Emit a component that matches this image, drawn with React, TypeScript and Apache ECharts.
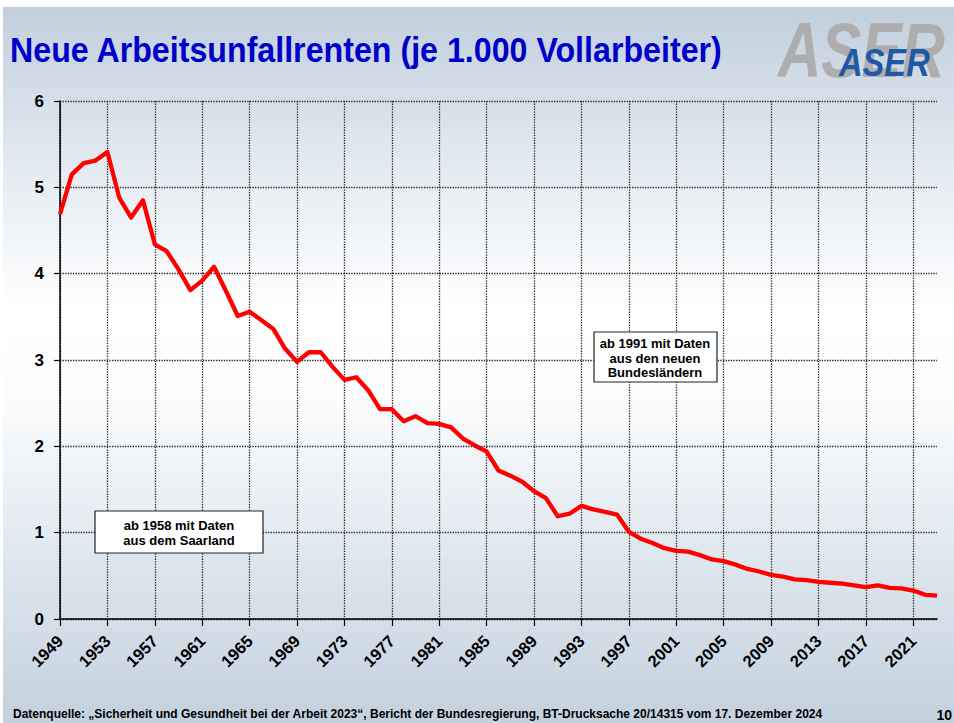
import React, { useEffect, useRef } from "react";
import * as echarts from "echarts";

const years: string[] = [];
for (let y = 1949; y <= 2023; y++) years.push(String(y));

const rentenValues: number[] = [
  4.69, 5.15, 5.28, 5.31, 5.41, 4.88, 4.65, 4.85, 4.34, 4.26,
  4.05, 3.81, 3.92, 4.08, 3.8, 3.51, 3.56, 3.46, 3.36, 3.13,
  2.98, 3.09, 3.09, 2.92, 2.77, 2.8, 2.65, 2.43, 2.43, 2.29,
  2.35, 2.27, 2.26, 2.22, 2.09, 2.01, 1.94, 1.72, 1.66, 1.59,
  1.48, 1.4, 1.19, 1.22, 1.31, 1.27, 1.24, 1.21, 1.01, 0.93,
  0.88, 0.82, 0.79, 0.78, 0.74, 0.69, 0.67, 0.63, 0.58, 0.55,
  0.51, 0.49, 0.46, 0.45, 0.43, 0.42, 0.41, 0.39, 0.37, 0.39,
  0.36, 0.355, 0.33, 0.28, 0.27,
];

const titleText = "Neue Arbeitsunfallrenten (je 1.000 Vollarbeiter)";
const footerText =
  "Datenquelle: \u201eSicherheit und Gesundheit bei der Arbeit 2023\u201c, Bericht der Bundesregierung, BT-Drucksache 20/14315 vom 17. Dezember 2024";
const pageNumber = "10";
const noteSaarland = "ab 1958 mit Daten\naus dem Saarland";
const noteNeueLaender = "ab 1991 mit Daten\naus den neuen\nBundesl\u00e4ndern";

const FONT = "'Liberation Sans', Arial, sans-serif";

export default function App() {
  const ref = useRef<HTMLDivElement>(null);

  useEffect(() => {
    if (!ref.current) return;
    const chart = echarts.init(ref.current, null, { renderer: "svg" });
    const option: any = {
      animation: false,
      backgroundColor: "transparent",
      grid: { left: 60, top: 101, right: 17, bottom: 104, containLabel: false },
      xAxis: {
        type: "category",
        data: years,
        boundaryGap: false,
        axisLine: { show: true, lineStyle: { color: "#000", width: 1.5 } },
        axisTick: { show: true, interval: 3, length: 7, lineStyle: { color: "#000", width: 1.2 } },
        axisLabel: {
          interval: 3,
          rotate: 45,
          margin: 19,
          color: "#000",
          fontFamily: FONT,
          fontWeight: "bold",
          fontSize: 16.5,
        },
        splitLine: {
          show: true,
          interval: 3,
          lineStyle: { color: "#222", type: "dotted", width: 1.3 },
        },
      },
      yAxis: {
        type: "value",
        min: 0,
        max: 6,
        interval: 1,
        axisLine: { show: true, lineStyle: { color: "#000", width: 1.5 } },
        axisTick: { show: true, length: 6, lineStyle: { color: "#000", width: 1.2 } },
        axisLabel: {
          margin: 16,
          color: "#000",
          fontFamily: FONT,
          fontWeight: "bold",
          fontSize: 17,
        },
        splitLine: {
          show: true,
          lineStyle: { color: "#222", type: "dotted", width: 1.3 },
        },
      },
      series: [
        {
          type: "line",
          data: rentenValues,
          symbol: "none",
          z: 5,
          lineStyle: { color: "#ff0000", width: 4.3, join: "round" },
        },
      ],
      graphic: [
        {
          type: "text",
          x: 10,
          y: 50,
          scaleX: 0.92,
          style: {
            text: titleText,
            fill: "#0000cc",
            font: `bold 35px ${FONT}`,
            textAlign: "left",
            textVerticalAlign: "middle",
          },
        },
        {
          type: "text",
          x: 778,
          y: 50,
          scaleX: 0.77,
          style: {
            text: "ASER",
            fill: "#aeaeae",
            font: `italic bold 78px ${FONT}`,
            textAlign: "left",
            textVerticalAlign: "middle",
          },
        },
        {
          type: "text",
          x: 839,
          y: 63,
          scaleX: 0.86,
          style: {
            text: "ASER",
            fill: "#1f58a4",
            font: `italic bold 38px ${FONT}`,
            textAlign: "left",
            textVerticalAlign: "middle",
          },
        },
        {
          type: "rect",
          shape: { x: 95, y: 511, width: 168, height: 42 },
          style: { fill: "#fff", stroke: "#222", lineWidth: 1.2 },
          z: 10,
        },
        {
          type: "text",
          x: 179,
          y: 533,
          z: 11,
          style: {
            text: noteSaarland,
            fill: "#000",
            font: `bold 13px ${FONT}`,
            lineHeight: 15,
            textAlign: "center",
            textVerticalAlign: "middle",
          },
        },
        {
          type: "rect",
          shape: { x: 594, y: 332, width: 123, height: 50 },
          style: { fill: "#fff", stroke: "#222", lineWidth: 1.2 },
          z: 10,
        },
        {
          type: "text",
          x: 655,
          y: 358,
          z: 11,
          style: {
            text: noteNeueLaender,
            fill: "#000",
            font: `bold 13px ${FONT}`,
            lineHeight: 14.5,
            textAlign: "center",
            textVerticalAlign: "middle",
          },
        },
        {
          type: "text",
          x: 13,
          y: 714,
          style: {
            text: footerText,
            fill: "#000",
            font: `bold 12px ${FONT}`,
            textAlign: "left",
            textVerticalAlign: "middle",
          },
        },
        {
          type: "text",
          x: 952,
          y: 715,
          style: {
            text: pageNumber,
            fill: "#000",
            font: `bold 14px ${FONT}`,
            textAlign: "right",
            textVerticalAlign: "middle",
          },
        },
      ],
    };
    chart.setOption(option);
    return () => chart.dispose();
  }, []);

  return (
    <div style={{ position: "fixed", left: 0, top: 0, width: 954, height: 723, background: "#fff", overflow: "hidden" }}>
      <div
        style={{
          position: "absolute",
          left: 3,
          top: 7,
          right: 0,
          bottom: 0,
          background: "linear-gradient(to bottom, #c1cfdd 0%, #e3eaf1 22%, #ffffff 42%, #fbfcfd 55%, #dde6ee 78%, #c3d1de 100%)",
        }}
      />
      <div ref={ref} style={{ position: "absolute", left: 0, top: 0, width: 954, height: 723 }} />
    </div>
  );
}
